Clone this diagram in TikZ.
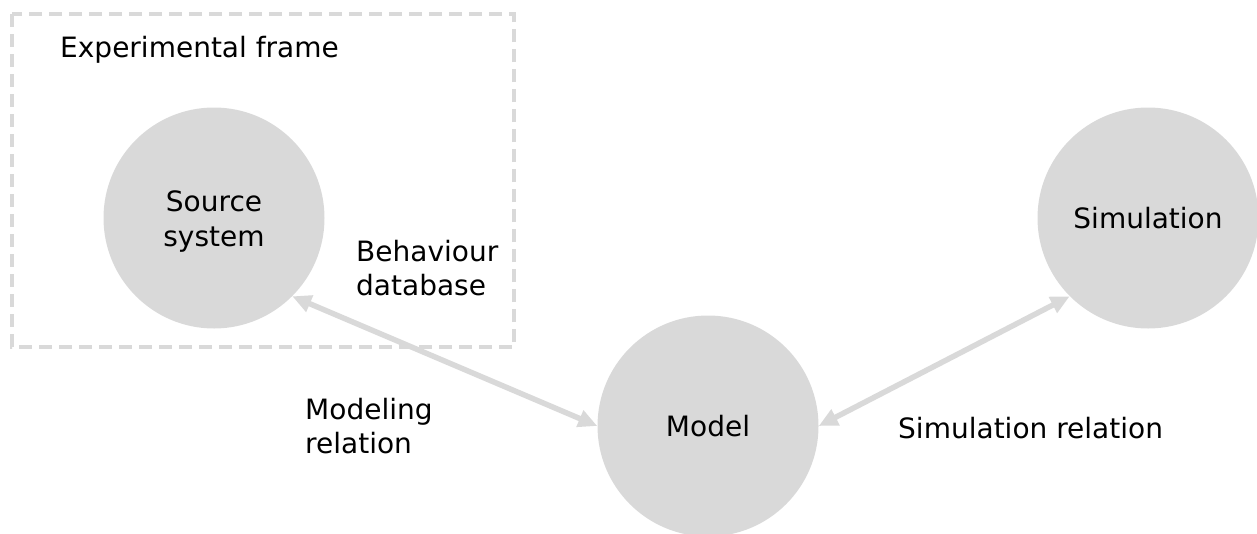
\documentclass[tikz,border=0pt]{standalone}
\usepackage{fontspec}
\setmainfont{DejaVu Sans}
\usetikzlibrary{arrows.meta}
\definecolor{lightgrey}{HTML}{D9D9D9}
\tikzset{
  blob/.style={circle, fill=lightgrey, draw=none, minimum size=221pt, inner sep=0pt,
               align=center, font=\fontsize{28}{35}\selectfont},
  lbl/.style={inner sep=0pt, align=left, font=\fontsize{28}{34}\selectfont},
  frame/.style={draw=lightgrey, line width=3.5pt, dash pattern=on 13pt off 7pt},
  link/.style={draw=lightgrey, line width=5.5pt,
               {Triangle[length=19pt,width=17pt]}-{Triangle[length=19pt,width=17pt]}}
}
\begin{document}
\begin{tikzpicture}[x=1pt, y=-1pt]
  \useasboundingbox (0,0) rectangle (1257,533);
  % experimental frame
  \draw[frame] (12,14) rectangle (514,347);
  \node[lbl, anchor=west] (ef) at (60,50) {Experimental frame};
  % the three entities
  \node[blob] (src) at (214,218) {};
  \node[align=center, inner sep=0pt, font=\fontsize{28}{35}\selectfont] (srct) at (214,222) {Source\\system};
  \node[blob] (mdl) at (708,426) {Model};
  \node[blob] (sim) at (1148,218) {Simulation};
  % relations
  \draw[link] (src.south east) -- (mdl.west);
  \draw[link] (mdl.east) -- (sim.south west);
  % labels
  \node[lbl, anchor=west] (bd) at (356,268) {Behaviour\\database};
  \node[lbl, anchor=west] (mr) at (305,426) {Modeling\\relation};
  \node[lbl, anchor=west] (sr) at (898,428) {Simulation relation};
\end{tikzpicture}
\end{document}
